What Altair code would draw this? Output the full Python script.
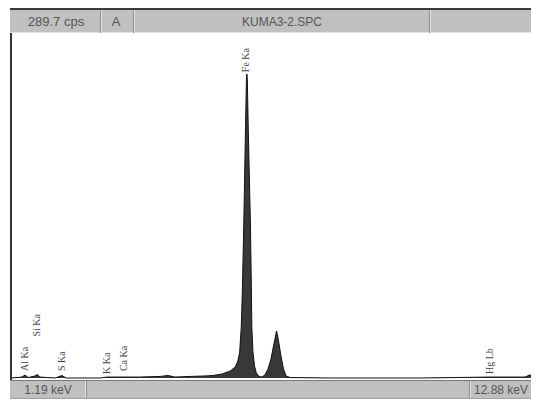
import altair as alt
import pandas as pd

# ---- data ----
energy_kev = [1.19, 1.41, 1.48, 1.55, 1.70, 1.75, 1.81, 2.15, 2.30, 2.39, 3.15, 3.30,
              3.70, 4.03, 4.48, 4.66, 4.81, 5.15, 5.48, 5.66, 5.86, 6.04, 6.15, 6.21,
              6.25, 6.285, 6.31, 6.34, 6.38, 6.40, 6.41, 6.42, 6.44, 6.49, 6.51, 6.52,
              6.545, 6.58, 6.62, 6.68, 6.745, 6.81, 6.88, 6.946, 7.01, 7.07, 7.11, 7.168,
              7.223, 7.28, 7.37, 8.26, 10.26, 11.81, 12.59, 12.70, 12.88]
counts_cps = [0, 0.8, 2.5, 0.4, 1.7, 2.9, 0.8, 0, 2.1, 0, 0, 0.8,
              0.8, 0.8, 1.3, 2.1, 0.8, 1.3, 1.7, 2.1, 3.4, 5.9, 9.2, 14.3,
              21.8, 42.8, 73.9, 126.8, 210.8, 250.2, 255.3, 250.2, 210.8, 126.8, 73.9, 42.8,
              21.8, 10.1, 4.2, 1.3, 0.8, 2.5, 7.6, 16.0, 28.5, 39.5, 31.9, 18.5,
              7.6, 1.7, 0.4, 0, 0, 0.8, 0.8, 2.5, 1.7]

peak_names = ["Al Ka", "Si Ka", "S Ka", "K Ka", "Ca Ka", "Fe Ka", "Hg Lb"]
peak_kev = [1.49, 1.74, 2.31, 3.31, 3.69, 6.40, 11.82]
label_cps = [5, 34, 5, 2.5, 5, 256, 2.5]

full_scale_cps = 289.7
energy_min, energy_max = 1.19, 12.88
header_texts = ["289.7 cps", "A", "KUMA3-2.SPC"]
footer_texts = ["1.19 keV", "12.88 keV"]

spec = pd.DataFrame({"keV": energy_kev, "cps": counts_cps})
labels = pd.DataFrame({"name": peak_names, "keV": peak_kev, "cps": label_cps})
one = pd.DataFrame({"a": [0]})

W, H = 521, 391
xs = alt.Scale(domain=[energy_min, energy_max], range=[2, 528])
ys = alt.Scale(domain=[0, full_scale_cps], range=[370, 25])

BAR = "#c0c0c0"
TXT = "#555555"


def box(x, x2, y, y2, color):
    return alt.Chart(one).mark_rect(color=color).encode(
        x=alt.value(x), x2=alt.value(x2), y=alt.value(y), y2=alt.value(y2))


def label(txt, x, y, size=13):
    return alt.Chart(one).mark_text(
        text=txt, font="Liberation Sans", fontSize=size, color=TXT,
        align="center", baseline="middle").encode(x=alt.value(x), y=alt.value(y))


layers = [
    # plot background
    box(0, W, 25, 372, "white"),
    # top bar
    box(0, W, 0, 2, "#3a3a3a"),
    box(0, W, 2, 25, BAR),
    box(0, W, 24, 25, "#e2e2e2"),
    box(90, 91, 2, 25, "#8e8e8e"), box(91, 92, 2, 25, "#e6e6e6"),
    box(123, 124, 2, 25, "#8e8e8e"), box(124, 125, 2, 25, "#e6e6e6"),
    box(419, 420, 2, 25, "#8e8e8e"), box(420, 421, 2, 25, "#e6e6e6"),
    # left border
    box(0, 2, 25, 372, "#333333"),
    # bottom bar
    box(0, W, 372, 391, BAR),
    box(0, W, 372, 373, "#7a7a7a"),
    box(75, 76, 373, 391, "#e6e6e6"), box(76, 77, 373, 391, "#8e8e8e"),
    box(459, 460, 373, 391, "#8e8e8e"), box(460, 461, 373, 391, "#e6e6e6"),
    box(0, W, 390, 391, "#a0a0a0"),
]

spectrum = alt.Chart(spec).mark_area(
    color="#383838", opacity=1, line={"color": "#111111", "strokeWidth": 1},
    interpolate="linear", clip=True).encode(
    x=alt.X("keV:Q", scale=xs, axis=None),
    y=alt.Y("cps:Q", scale=ys, axis=None))

peak_text = alt.Chart(labels).mark_text(
    font="Liberation Serif", fontSize=10, color="#444444",
    angle=270, align="left", baseline="middle", dx=1).encode(
    x=alt.X("keV:Q", scale=xs, axis=None),
    y=alt.Y("cps:Q", scale=ys, axis=None),
    text="name:N")

texts = [
    label(header_texts[0], 46, 14),
    label(header_texts[1], 106, 14),
    label(header_texts[2], 272, 14, 12),
    label(footer_texts[0], 38, 382, 12),
    label(footer_texts[1], 491, 382, 12),
]

chart = alt.layer(*layers, spectrum, peak_text, *texts).properties(
    width=W, height=H,
    autosize=alt.AutoSizeParams(type="none"),
    padding={"left": 2, "top": 0, "right": 0, "bottom": 0},
).configure_view(stroke=None)

chart.save("out.html", embed_options={"renderer": "svg", "actions": False})
